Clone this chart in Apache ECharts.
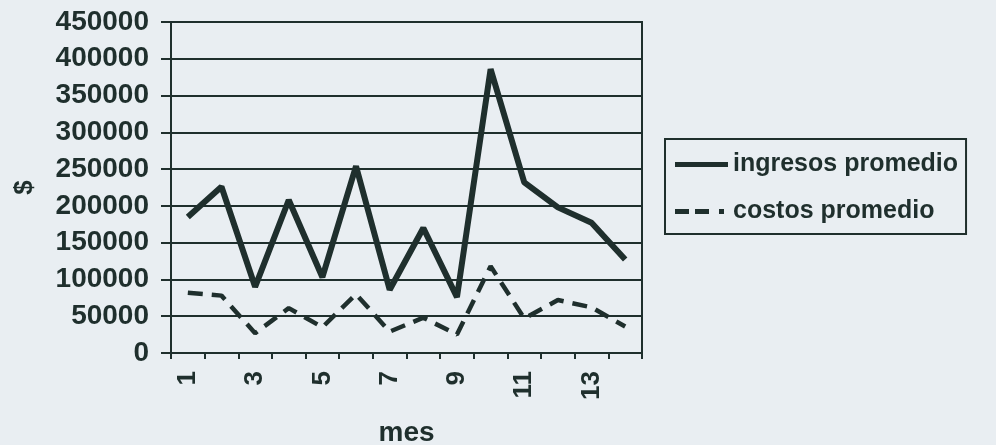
<!DOCTYPE html>
<html>
<head>
<meta charset="utf-8">
<script src="https://cdn.jsdelivr.net/npm/echarts@6/dist/echarts.min.js"></script>
<style>
  html, body { margin: 0; padding: 0; background: #e9eef2; }
  #chart { width: 996px; height: 445px; }
</style>
</head>
<body>
<div id="chart"></div>
<script>
// meses 1..14
const meses = ['1', '2', '3', '4', '5', '6', '7', '8', '9', '10', '11', '12', '13', '14'];
const ingresosPromedio = [185000, 226000, 90000, 208000, 103000, 254000, 86000, 170000, 76000, 386000, 232000, 198000, 177000, 127000];
const costosPromedio = [82000, 78000, 27000, 61000, 35000, 80000, 29000, 48000, 25000, 118000, 47000, 72000, 62000, 36000];

const ink = '#1f2f2d';
const fuente = '"Liberation Sans", Arial, sans-serif';

const myChart = echarts.init(document.getElementById('chart'));
const option = {
    backgroundColor: '#e9eef2',
    animation: false,
    grid: {
        left: 171,
        right: 354,
        top: 22,
        bottom: 92,
        outerBoundsMode: 'none',
        containLabel: false,
        show: true,
        borderColor: ink,
        borderWidth: 2
    },
    legend: {
        orient: 'vertical',
        left: 665,
        top: 139,
        padding: [13, 8, 10, 10],
        itemGap: 22,
        itemWidth: 53,
        itemHeight: 5,
        borderColor: ink,
        borderWidth: 2,
        textStyle: {
            color: ink,
            fontSize: 25,
            fontWeight: 'bold',
            fontFamily: fuente
        },
        data: [
            {name: 'ingresos promedio', icon: 'rect'},
            // raya, raya, punto
            {name: 'costos promedio', icon: 'path://M0,0h14v5h-14z M20,0h14v5h-14z M44,0h5v5h-5z M53,0h0v5h0z'}
        ]
    },
    xAxis: {
        type: 'category',
        data: meses,
        boundaryGap: true,
        name: 'mes',
        nameLocation: 'middle',
        nameGap: 66,
        nameTextStyle: {color: ink, fontSize: 28, fontWeight: 'bold', fontFamily: fuente},
        axisLine: {lineStyle: {color: ink, width: 2}},
        axisTick: {show: true, interval: 0, length: 6, lineStyle: {color: ink, width: 2}},
        axisLabel: {
            interval: 1,
            rotate: 90,
            margin: 18,
            color: ink,
            fontSize: 26,
            fontWeight: 'bold',
            fontFamily: fuente
        }
    },
    yAxis: {
        type: 'value',
        min: 0,
        max: 450000,
        interval: 50000,
        name: '$',
        nameLocation: 'middle',
        nameGap: 133,
        nameTextStyle: {color: ink, fontSize: 26, fontWeight: 'bold', fontFamily: fuente},
        axisLine: {show: true, lineStyle: {color: ink, width: 2}},
        axisTick: {show: true, length: 10, lineStyle: {color: ink, width: 2}},
        splitLine: {show: true, lineStyle: {color: ink, width: 2}},
        axisLabel: {
            margin: 22,
            color: ink,
            fontSize: 28,
            fontWeight: 'bold',
            fontFamily: fuente,
            formatter: function (v) { return String(v); }
        }
    },
    series: [
        {
            name: 'ingresos promedio',
            type: 'line',
            data: ingresosPromedio,
            symbol: 'none',
            itemStyle: {color: ink},
            lineStyle: {color: ink, width: 6}
        },
        {
            name: 'costos promedio',
            type: 'line',
            data: costosPromedio,
            symbol: 'none',
            itemStyle: {color: ink},
            lineStyle: {color: ink, width: 4.5, type: [15, 9]}
        }
    ]
};
myChart.setOption(option);
</script>
</body>
</html>
